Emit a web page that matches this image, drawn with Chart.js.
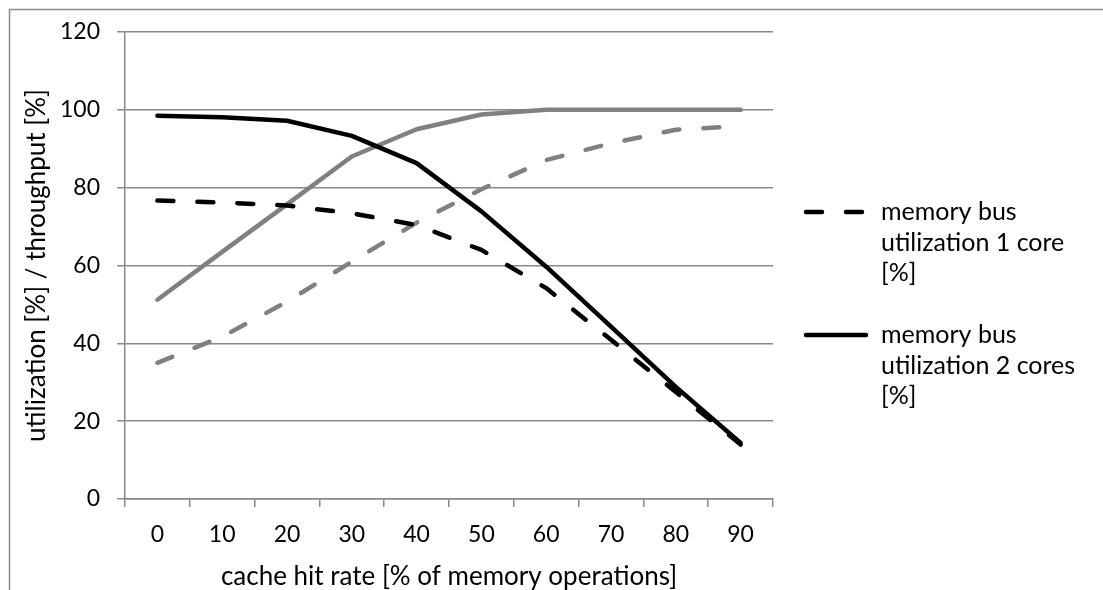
<!DOCTYPE html>
<html>
<head>
<meta charset="utf-8">
<script src="https://cdn.jsdelivr.net/npm/chart.js@4.4.1/dist/chart.umd.min.js"></script>
<style>
    html, body { margin: 0; padding: 0; background: #fff; }
    #wrap { width: 1103px; height: 590px; }
</style>
</head>
<body>
<div id="wrap"><canvas id="chart-area" width="1103" height="590"></canvas></div>
<script>
    // values
    var hitRates = ['0', '10', '20', '30', '40', '50', '60', '70', '80', '90'];
    var busUtil1Core = [76.7, 76.2, 75.4, 73.4, 70.4, 64, 54.2, 40.9, 27.5, 14];
    var busUtil2Cores = [98.5, 98.1, 97.2, 93.3, 86.3, 73.9, 59.7, 44.3, 28.8, 14.4];
    var throughput1Core = [35, 41.7, 50.7, 61, 71, 79.6, 87.1, 91.4, 94.9, 95.8];
    var throughput2Cores = [51.2, 63.5, 75.7, 88, 95, 98.8, 100, 100, 100, 100];
    var yMin = 0, yMax = 120, yStep = 20;

    var seriesLabels = [
        'memory bus utilization 1 core [%]',
        'memory bus utilization 2 cores [%]',
        'throughput 1 core [%]',
        'throughput 2 cores [%]'
    ];
    // only the two black series show in the legend, wrapped like the original
    var legendLines = [
        ['memory bus', 'utilization 1 core', '[%]'],
        ['memory bus', 'utilization 2 cores', '[%]']
    ];

    var fontFamily = 'Lato, "Open Sans", sans-serif';
    var tickSize = 23;
    var titleSize = 26;
    var legendSize = 25;
    var gridColor = '#888888';

    // outer frame of the chart object (cropped on the right / bottom)
    var framePlugin = {
        id: 'frame',
        beforeDraw: function (chart) {
            var ctx = chart.ctx;
            ctx.save();
            ctx.strokeStyle = '#8c8c8c';
            ctx.lineWidth = 1.5;
            ctx.strokeRect(9.5, 9.5, chart.width + 20, chart.height + 20);
            ctx.restore();
        }
    };

    var legendPlugin = {
        id: 'wrappedLegend',
        afterDraw: function (chart) {
            var ctx = chart.ctx;
            var tops = [212, 335];
            ctx.save();
            ctx.font = legendSize + 'px ' + fontFamily;
            ctx.textBaseline = 'middle';
            ctx.fillStyle = '#000';
            legendLines.forEach(function (lines, i) {
                var ds = chart.data.datasets[i];
                var y = tops[i];
                ctx.beginPath();
                ctx.strokeStyle = ds.borderColor;
                ctx.lineWidth = ds.borderWidth;
                ctx.lineCap = ds.borderCapStyle || 'butt';
                ctx.setLineDash(ds.borderDash || []);
                ctx.moveTo(806, y);
                ctx.lineTo(866, y);
                ctx.stroke();
                ctx.setLineDash([]);
                lines.forEach(function (t, k) {
                    ctx.fillText(t, 881, y + k * 30.5);
                });
            });
            ctx.restore();
        }
    };

    function lineSet(label, data, color, dashed) {
        return {
            label: label,
            data: data,
            borderColor: color,
            backgroundColor: color,
            borderWidth: 4.5,
            borderDash: dashed ? [16, 24] : [],
            borderCapStyle: 'round',
            borderJoinStyle: 'round',
            pointRadius: 0,
            pointHoverRadius: 0,
            tension: 0,
            fill: false
        };
    }

    var ctx = document.getElementById('chart-area').getContext('2d');
    window.myLine = new Chart(ctx, {
        type: 'line',
        data: {
            labels: hitRates,
            datasets: [
                lineSet(seriesLabels[0], busUtil1Core, '#000000', true),
                lineSet(seriesLabels[1], busUtil2Cores, '#000000', false),
                lineSet(seriesLabels[2], throughput1Core, '#808080', true),
                lineSet(seriesLabels[3], throughput2Cores, '#808080', false)
            ]
        },
        options: {
            responsive: false,
            animation: false,
            devicePixelRatio: 1,
            layout: { padding: { top: 32, right: 330, left: 0, bottom: 0 } },
            plugins: {
                legend: { display: false },
                tooltip: { enabled: false }
            },
            scales: {
                x: {
                    type: 'category',
                    offset: true,
                    grid: {
                        offset: true,
                        drawOnChartArea: false,
                        drawTicks: true,
                        tickLength: 8,
                        color: gridColor,
                        lineWidth: 1.5
                    },
                    border: { display: true, color: gridColor, width: 1.5 },
                    ticks: {
                        color: '#000',
                        padding: 14,
                        maxRotation: 0,
                        font: { family: fontFamily, size: tickSize }
                    },
                    title: {
                        display: true,
                        text: 'cache hit rate [% of memory operations]',
                        color: '#000',
                        padding: { top: 0, bottom: -2 },
                        font: { family: fontFamily, size: titleSize }
                    },
                    afterFit: function (scale) { scale.height = 91; }
                },
                y: {
                    min: yMin,
                    max: yMax,
                    grid: {
                        color: gridColor,
                        lineWidth: 1.5,
                        drawTicks: true,
                        tickLength: 8
                    },
                    border: { display: true, color: gridColor, width: 1.5 },
                    ticks: {
                        stepSize: yStep,
                        color: '#000',
                        padding: 17,
                        font: { family: fontFamily, size: tickSize }
                    },
                    title: {
                        display: true,
                        text: 'utilization [%] / throughput [%]',
                        color: '#000',
                        padding: { top: 21, bottom: 0 },
                        font: { family: fontFamily, size: titleSize }
                    },
                    afterFit: function (scale) { scale.width = 125; }
                }
            }
        },
        plugins: [framePlugin, legendPlugin]
    });
</script>
</body>
</html>
